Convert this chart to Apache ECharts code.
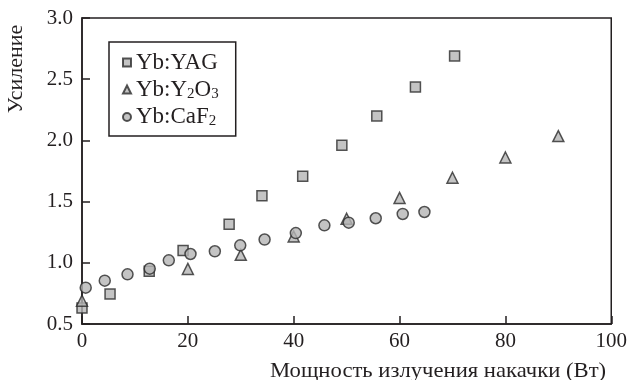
<!DOCTYPE html>
<html><head><meta charset="utf-8">
<script src="https://cdn.jsdelivr.net/npm/echarts@6/dist/echarts.min.js"></script>
<style>html,body{margin:0;padding:0;background:#fff}#c{width:630px;height:380px}</style>
</head><body><div id="c"></div>
<script>
var seriesNames = ['Yb:YAG', 'Yb:Y2O3', 'Yb:CaF2'];
var yagX = [0, 5.3, 12.7, 19.1, 27.8, 34, 41.7, 49.1, 55.7, 63, 70.4];
var yagY = [0.63, 0.745, 0.93, 1.10, 1.315, 1.548, 1.707, 1.96, 2.2, 2.436, 2.69];
var y2o3X = [0, 20, 30, 40, 50, 60, 70, 80, 90];
var y2o3Y = [0.69, 0.95, 1.065, 1.215, 1.36, 1.53, 1.695, 1.86, 2.035];
var cafX = [-0.2, 0.7, 4.3, 8.6, 12.8, 16.4, 20.5, 25.1, 29.9, 34.5, 40.4, 45.8, 50.4, 55.5, 60.6, 64.7];
var cafY = [0.783, 0.797, 0.854, 0.906, 0.952, 1.02, 1.072, 1.094, 1.143, 1.19, 1.243, 1.306, 1.328, 1.364, 1.399, 1.415];
var xTicks = [0, 20, 40, 60, 80, 100];
var yTicks = ['0.5', '1.0', '1.5', '2.0', '2.5', '3.0'];
var xTitle = 'Мощность излучения накачки (Вт)';
var yTitle = 'Усиление';

function zip(a, b) { return a.map(function (v, i) { return [v, b[i]]; }); }
var FONT = 'Liberation Serif';
var INK = '#231f20';
var mk = { color: '#b5b5b5', borderColor: '#2a2a2a', borderWidth: 1.5 };

var chart = echarts.init(document.getElementById('c'));
chart.setOption({
  animation: false,
  backgroundColor: '#fff',
  grid: { left: 82, right: 18, top: 18, bottom: 56, show: true, borderColor: INK, borderWidth: 1.5 },
  xAxis: {
    type: 'value', min: 0, max: 100, interval: 20,
    axisLine: { lineStyle: { color: INK, width: 1.5 } },
    axisTick: { inside: true, length: 8, lineStyle: { color: INK, width: 1.5 } },
    splitLine: { show: false },
    axisLabel: { fontFamily: FONT, fontSize: 21, color: INK, margin: 7,
      formatter: function (v) { return xTicks.indexOf(v) >= 0 ? String(v) : ''; } }
  },
  yAxis: {
    type: 'value', min: 0.5, max: 3.0, interval: 0.5,
    axisLine: { lineStyle: { color: INK, width: 1.5 } },
    axisTick: { inside: true, length: 8, lineStyle: { color: INK, width: 1.5 } },
    splitLine: { show: false },
    axisLabel: { fontFamily: FONT, fontSize: 21, color: INK, margin: 9,
      formatter: function (v) { return yTicks[Math.round((v - 0.5) / 0.5)]; } }
  },
  legend: {
    orient: 'vertical', left: 109, top: 42,
    borderColor: INK, borderWidth: 1.5, padding: [9, 17, 7, 13],
    itemWidth: 8, itemHeight: 8, itemGap: 4,
    data: seriesNames,
    textStyle: {
      fontFamily: FONT, fontSize: 23, color: INK,
      rich: {
        n: { fontFamily: FONT, fontSize: 23, color: INK, lineHeight: 24, verticalAlign: 'middle' },
        s: { fontFamily: FONT, fontSize: 15, color: INK, lineHeight: 14, verticalAlign: 'bottom' }
      }
    },
    formatter: function (name) {
      if (name === 'Yb:Y2O3') return '{n|Yb:Y}{s|2}{n|O}{s|3}';
      if (name === 'Yb:CaF2') return '{n|Yb:CaF}{s|2}';
      return '{n|' + name + '}';
    }
  },
  graphic: [
    { type: 'text', x: 270, y: 360, scaleX: 1.03, style: { text: xTitle, font: '22px "Liberation Serif"', fill: INK } },
    { type: 'text', x: 16, y: 69, rotation: Math.PI / 2, style: { text: yTitle, font: '22px "Liberation Serif"', fill: INK, align: 'center', verticalAlign: 'middle' } }
  ],
  series: [
    { name: seriesNames[0], type: 'scatter', symbol: 'rect', symbolSize: 10, itemStyle: mk, data: zip(yagX, yagY) },
    { name: seriesNames[1], type: 'scatter', symbol: 'triangle', symbolSize: 11, itemStyle: mk, data: zip(y2o3X, y2o3Y) },
    { name: seriesNames[2], type: 'scatter', symbol: 'circle', symbolSize: 11, itemStyle: mk, data: zip(cafX, cafY) }
  ]
});
</script></body></html>
